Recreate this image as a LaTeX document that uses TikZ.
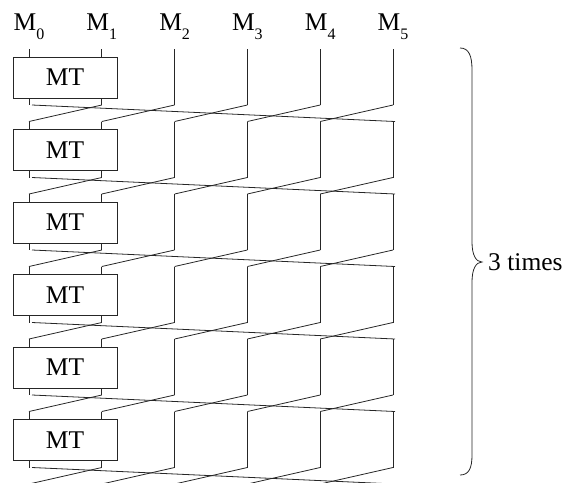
\documentclass[tikz,border=0pt]{standalone}
\usepackage{fontspec}
\setmainfont{Liberation Serif}
\newcommand{\msub}[1]{M\raisebox{-9.5pt}{\fontsize{16}{17}\selectfont #1}}
\begin{document}
\begin{tikzpicture}[
  x=1pt, y=-1pt,
  wire/.style={line width=0.8pt, draw=black!85},
  mtbox/.style={draw=black!85, line width=0.8pt, minimum width=104pt,
    minimum height=41pt, inner sep=0pt, font=\fontsize{25.5}{30}\selectfont},
  lbl/.style={inner sep=0pt, font=\fontsize{25.5}{30}\selectfont}
]
\useasboundingbox (0,0) rectangle (564,482);
\clip (0,0) rectangle (564,482);

% ---- wire end points: stage k, column i ----
\foreach \k in {0,...,6}
  \foreach \i in {0,...,5} {
    \coordinate (s\k-\i-a) at ({29+72.8*\i}, {49+72.5*\k});
    \coordinate (s\k-\i-b) at ({29+72.8*\i}, {105+72.5*\k});
  }

% ---- column labels ----
\foreach \i in {0,...,5}
  \node[lbl, anchor=base] (lab\i) at ({29+72.8*\i}, 30) {\msub{\i}};

% ---- six stages: MT box, then cyclic shift ----
\foreach \k in {0,...,5} {
  \pgfmathtruncatemacro{\nk}{\k+1}
  \node[mtbox] (mt\k) at (65, {77.5+72.5*\k}) {MT};
  \foreach \i in {0,1} {
    \draw[wire] (s\k-\i-a) -- (s\k-\i-a |- mt\k.north);
    \draw[wire] (s\k-\i-a |- mt\k.south) -- (s\k-\i-b);
  }
  \foreach \i in {2,...,5}
    \draw[wire] (s\k-\i-a) -- (s\k-\i-b);
  % shift one column to the left
  \foreach \i in {1,...,5} {
    \pgfmathtruncatemacro{\j}{\i-1}
    \draw[wire] (s\k-\i-b) -- (s\nk-\j-a);
  }
  % first wire goes round to the last column
  \draw[wire] ([xshift=3pt]s\k-0-b) -- ([xshift=2pt]s\nk-5-a);
}

% ---- brace ----
\coordinate (brtop) at (460,48);
\coordinate (brtip) at (482,262);
\coordinate (brbot) at (460,475);
\draw[wire] (brtop) .. controls (469,48) and (472,56) .. (472,70)
  -- (472,242) .. controls (472,255) and (476,262) .. (brtip)
  .. controls (476,262) and (472,269) .. (472,282)
  -- (472,455) .. controls (472,468) and (469,475) .. (brbot);
\node[lbl, anchor=west] (times) at ([xshift=6pt]brtip) {3 times};

\end{tikzpicture}
\end{document}
